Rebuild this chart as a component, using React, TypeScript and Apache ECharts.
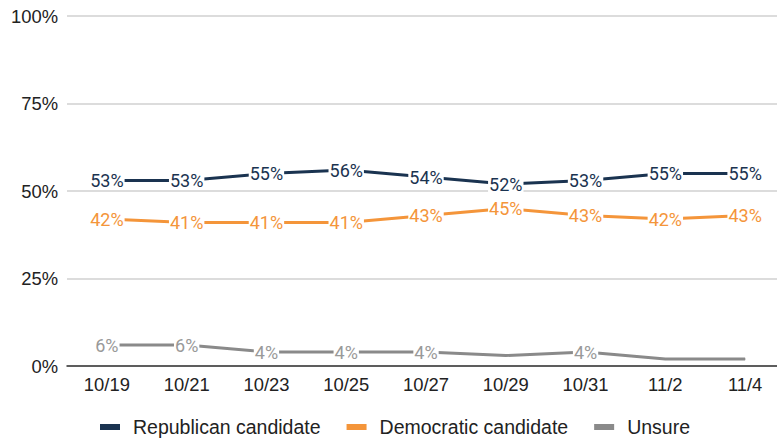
import React, { useEffect, useRef } from "react";
import * as echarts from "echarts";

const categories = ["10/19", "10/21", "10/23", "10/25", "10/27", "10/29", "10/31", "11/2", "11/4"];
const republican = [53, 53, 55, 56, 54, 52, 53, 55, 55];
const democratic = [42, 41, 41, 41, 43, 45, 43, 42, 43];
const unsure = [6, 6, 4, 4, 4, 3, 4, 2, 2];
const unsureLabelShown = [true, true, true, true, true, false, true, false, false];
const yTicks = [0, 25, 50, 75, 100];

export default function App() {
  const ref = useRef<HTMLDivElement>(null);
  useEffect(() => {
    if (!ref.current) return;
    const chart = echarts.init(ref.current, null, { renderer: "svg" });
    const labelBase = (color: string) => ({
      show: true,
      position: "inside",
      formatter: "{c}%",
      fontFamily: "Roboto",
      fontSize: 18,
      color,
      backgroundColor: "#ffffff",
      padding: [0, 1],
    });
    chart.setOption({
      animation: false,
      textStyle: { fontFamily: "Liberation Sans" },
      grid: { left: 67, right: 5, top: 16, bottom: 75, containLabel: false },
      legend: {
        top: 412,
        left: 95,
        icon: "rect",
        itemWidth: 20,
        itemHeight: 6,
        itemGap: 26,
        textStyle: {
          fontSize: 19.5,
          color: "#222",
          fontFamily: "Liberation Sans",
          padding: [0, 0, 0, 8],
        },
        data: ["Republican candidate", "Democratic candidate", "Unsure"],
      },
      xAxis: {
        type: "category",
        data: categories,
        boundaryGap: true,
        axisLine: { lineStyle: { color: "#333", width: 1.5 } },
        axisTick: { show: false },
        axisLabel: { fontSize: 18.4, color: "#222", margin: 9 },
      },
      yAxis: {
        type: "value",
        min: yTicks[0],
        max: yTicks[yTicks.length - 1],
        interval: 25,
        axisLine: { show: false },
        axisTick: { show: false },
        axisLabel: { fontSize: 18.4, color: "#222", formatter: "{value}%", margin: 9 },
        splitLine: { lineStyle: { color: "#d0d0d0", width: 1.5 } },
      },
      series: [
        {
          name: "Republican candidate",
          type: "line",
          data: republican,
          symbol: "circle",
          symbolSize: 1,
          showSymbol: true,
          lineStyle: { color: "#1a3350", width: 3 },
          itemStyle: { color: "#1a3350" },
          label: labelBase("#1a3350"),
        },
        {
          name: "Democratic candidate",
          type: "line",
          data: democratic,
          symbol: "circle",
          symbolSize: 1,
          showSymbol: true,
          lineStyle: { color: "#f4953a", width: 3 },
          itemStyle: { color: "#f4953a" },
          label: labelBase("#f4953a"),
        },
        {
          name: "Unsure",
          type: "line",
          data: unsure.map((v, i) => ({
            value: v,
            label: { show: unsureLabelShown[i] },
          })),
          symbol: "circle",
          symbolSize: 1,
          showSymbol: true,
          lineStyle: { color: "#8a8a8a", width: 3 },
          itemStyle: { color: "#8a8a8a" },
          label: labelBase("#999999"),
        },
      ],
    });
    return () => chart.dispose();
  }, []);
  return (
    <div
      style={{
        position: "absolute",
        left: 0,
        top: 0,
        width: 777,
        height: 441,
        overflow: "hidden",
      }}
    >
      <div ref={ref} style={{ width: 790, height: 441 }} />
    </div>
  );
}
